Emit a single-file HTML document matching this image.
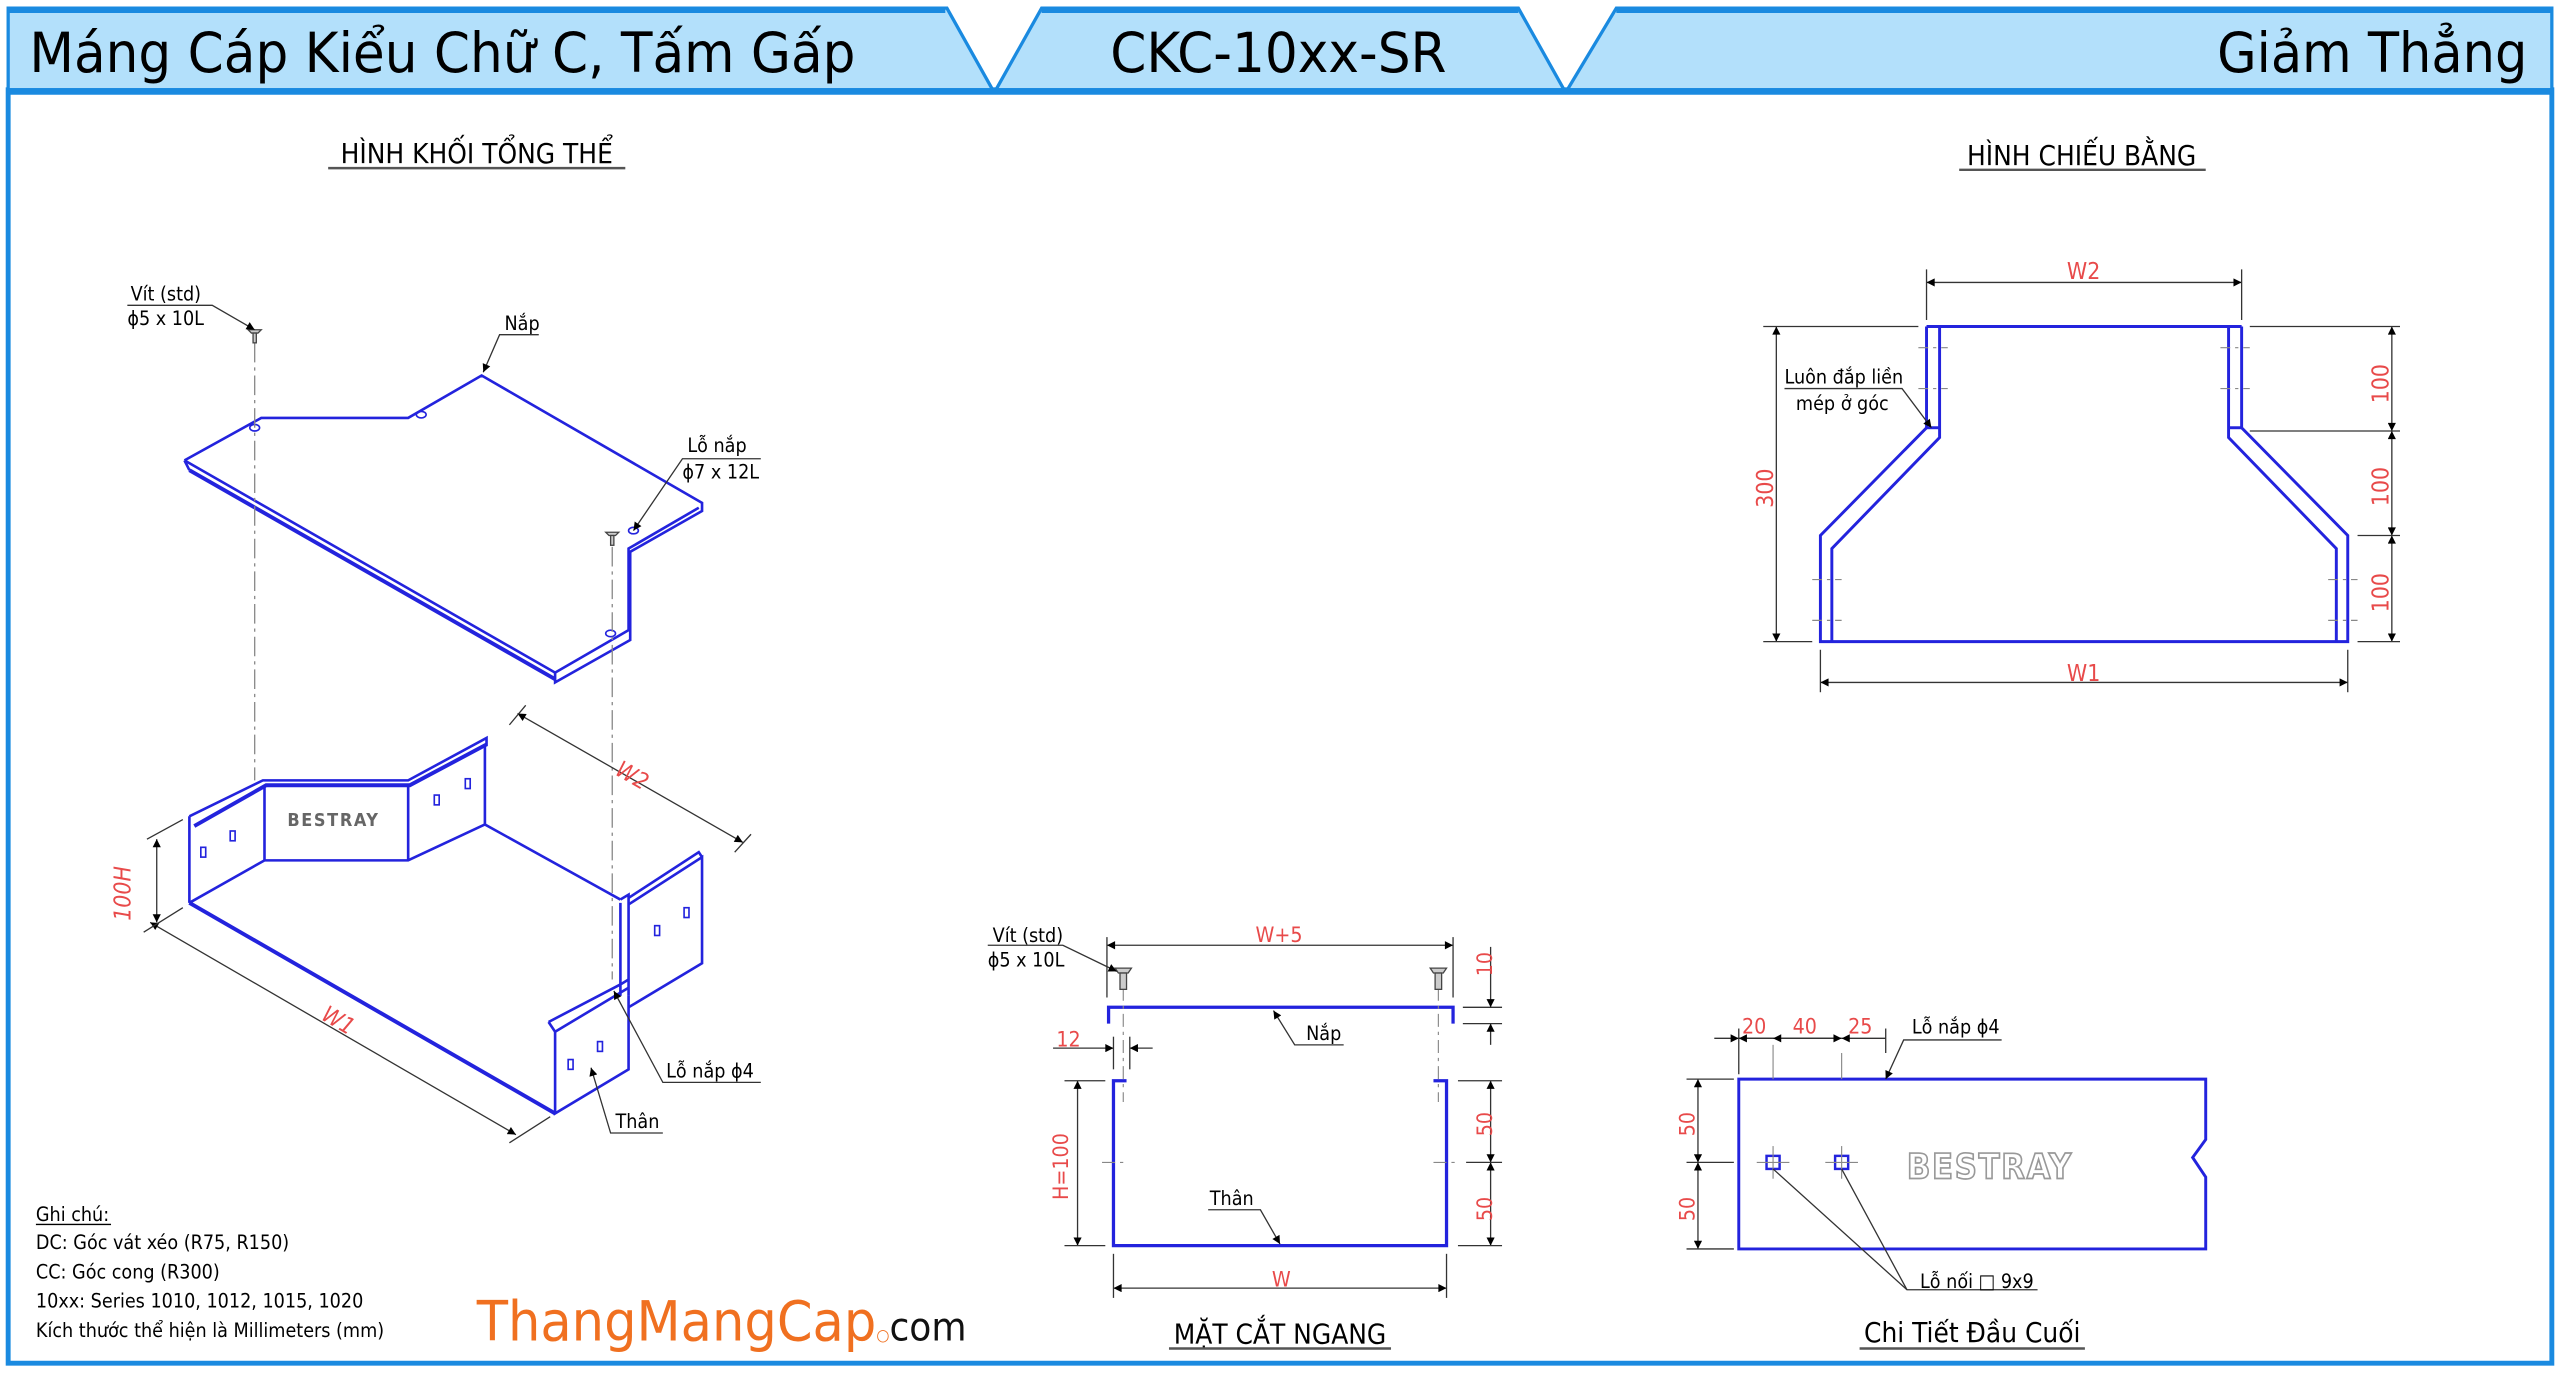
<!DOCTYPE html>
<html><head><meta charset="utf-8"><style>
html,body{margin:0;padding:0;background:#fff;}
svg{display:block;}
text{font-family:"DejaVu Sans Condensed","DejaVu Sans","Liberation Sans",sans-serif;}
</style></head><body>
<svg width="2560" height="1373" viewBox="0 0 1568 841" preserveAspectRatio="none" xmlns="http://www.w3.org/2000/svg">
<defs>
<marker id="a" viewBox="0 0 10 10" refX="10" refY="5" markerWidth="9" markerHeight="5" orient="auto-start-reverse" markerUnits="userSpaceOnUse"><path d="M0,0L10,5L0,10z" fill="#000"/></marker>
</defs>
<rect width="1568" height="841" fill="#fff"/>
<rect x="5" y="55" width="1558" height="780" fill="none" stroke="#1a8ae0" stroke-width="3"/>
<g fill="#b3e0fb" stroke="#1a8ae0" stroke-width="2">
<polygon points="5,5 580,5 608,55 5,55"/>
<polygon points="638,5 930,5 958,55 610,55"/>
<polygon points="990,5 1563,5 1563,55 960,55"/>
</g>
<g stroke="#1a8ae0" stroke-width="4"><line x1="5" y1="6" x2="579" y2="6"/><line x1="638" y1="6" x2="930" y2="6"/><line x1="990" y1="6" x2="1563" y2="6"/><line x1="5" y1="56" x2="1563" y2="56"/></g>
<g font-size="34" fill="#000">
<text x="18" y="44" textLength="506" lengthAdjust="spacingAndGlyphs">Máng Cáp Kiểu Chữ C, Tấm Gấp</text>
<text x="680" y="44" textLength="206" lengthAdjust="spacingAndGlyphs">CKC-10xx-SR</text>
<text x="1358" y="44" textLength="190" lengthAdjust="spacingAndGlyphs">Giảm Thẳng</text>
</g>
<g font-size="17" fill="#000" text-anchor="middle">
<text x="292" y="100">HÌNH KHỐI TỔNG THỂ</text>
<text x="1275" y="101">HÌNH CHIẾU BẰNG</text>
<text x="784" y="823">MẶT CẮT NGANG</text>
<text x="1208" y="822">Chi Tiết Đầu Cuối</text>
</g>
<g stroke="#555" stroke-width="1.5"><line x1="201" y1="103" x2="383" y2="103"/><line x1="1200" y1="104" x2="1351" y2="104"/><line x1="716" y1="826" x2="852" y2="826"/><line x1="1139" y1="826" x2="1277" y2="826"/></g>

<g fill="none" stroke="#2323dd" stroke-width="1.6">
<polyline points="113,282 160,256 250,256 295,230 430,308 430,313 386,338 386,392 340,418 340,412"/>
<polyline points="113,282 340,412 385,386 385,336 428,311"/>
<line x1="113" y1="282" x2="116" y2="288"/><line x1="116" y1="288" x2="340" y2="416" stroke-width="2.4"/>
<polyline points="116,500 161,478 250,478 298,452 298,457"/>
<polyline points="119,506 163,481 251,481 298,456" stroke-width="2.4"/>
<line x1="116" y1="500" x2="116" y2="553"/><line x1="162" y1="481" x2="162" y2="527"/><line x1="250" y1="481" x2="250" y2="527"/><line x1="297" y1="457" x2="297" y2="505"/>
<polyline points="116,553 162,527 250,527 297,505 380,551"/>
<line x1="116" y1="553" x2="340" y2="682" stroke-width="2.4"/>
<polyline points="380,551 385,548 385,610"/>
<polyline points="380,553 380,610"/>
<polyline points="385,554 430,525 430,590 385,617"/>
<polyline points="385,550 428,522 430,525"/>
<polyline points="336,626 340,632 340,682 385,655 385,610"/>
<polyline points="336,626 380,603 385,600"/>
<polyline points="340,632 385,605"/>
<g stroke-width="1"><rect x="123" y="519" width="3" height="6"/><rect x="141" y="509" width="3" height="6"/><rect x="266" y="487" width="3" height="6"/><rect x="285" y="477" width="3" height="6"/><rect x="401" y="567" width="3" height="6"/><rect x="419" y="556" width="3" height="6"/><rect x="348" y="649" width="3" height="6"/><rect x="366" y="638" width="3" height="6"/><ellipse cx="156" cy="262" rx="3" ry="2"/><ellipse cx="258" cy="254" rx="3" ry="2"/><ellipse cx="374" cy="388" rx="3" ry="2"/><ellipse cx="388" cy="325" rx="3" ry="2"/></g>
</g>
<text x="176" y="506" font-size="11" fill="#666" font-weight="bold" letter-spacing="1">BESTRAY</text>
<g stroke="#888" stroke-width="0.8" stroke-dasharray="12,3,2,3"><line x1="156" y1="210" x2="156" y2="478"/><line x1="375" y1="335" x2="375" y2="600"/></g>
<g stroke="#444" fill="#ccc" stroke-width="0.8"><path d="M152,202h8l-2,2h-4z"/><rect x="155" y="204" width="2" height="6"/><path d="M371,326h8l-2,2h-4z"/><rect x="374" y="328" width="2" height="6"/></g>
<g stroke="#333" stroke-width="0.8" fill="none">
<line x1="317" y1="437" x2="455" y2="516" marker-start="url(#a)" marker-end="url(#a)"/>
<line x1="312" y1="444" x2="322" y2="432"/><line x1="450" y1="522" x2="460" y2="511"/>
<line x1="92" y1="565" x2="316" y2="695" marker-start="url(#a)" marker-end="url(#a)"/>
<line x1="88" y1="571" x2="112" y2="556"/><line x1="312" y1="700" x2="337" y2="684"/>
<line x1="96" y1="514" x2="96" y2="565" marker-start="url(#a)" marker-end="url(#a)"/>
<line x1="90" y1="514" x2="112" y2="502"/>
<polyline points="78,187 130,187 156,202" marker-end="url(#a)"/>
<polyline points="330,205 306,205 296,228" marker-end="url(#a)"/>
<polyline points="466,281 418,281 388,325" marker-end="url(#a)"/>
<polyline points="466,663 406,663 376,607" marker-end="url(#a)"/>
<polyline points="406,694 374,694 362,654" marker-end="url(#a)"/>
</g>
<g font-size="12" fill="#000">
<text x="80" y="184">Vít (std)</text><text x="78" y="199">ϕ5 x 10L</text>
<text x="309" y="202">Nắp</text>
<text x="421" y="277">Lỗ nắp</text><text x="418" y="293">ϕ7 x 12L</text>
<text x="408" y="660">Lỗ nắp ϕ4</text>
<text x="377" y="691">Thân</text>
</g>
<g font-size="14" fill="#e84a4a" font-style="italic">
<text transform="translate(376,474) rotate(30)">W2</text>
<text transform="translate(196,624) rotate(30)">W1</text>
<text transform="translate(80,564) rotate(-90)">100H</text>
</g>
<g font-size="12" fill="#000">
<text x="22" y="748">Ghi chú:</text>
<text x="22" y="765">DC: Góc vát xéo (R75, R150)</text>
<text x="22" y="783">CC: Góc cong (R300)</text>
<text x="22" y="801">10xx: Series 1010, 1012, 1015, 1020</text>
<text x="22" y="819">Kích thước thể hiện là Millimeters (mm)</text>
</g>
<line x1="22" y1="750" x2="68" y2="750" stroke="#000" stroke-width="0.8"/>
<text x="292" y="821" font-size="34" fill="#f07020" font-family="Liberation Sans,sans-serif" textLength="300" lengthAdjust="spacingAndGlyphs">ThangMangCap<tspan font-size="10" fill="#f07020">○</tspan><tspan fill="#111" font-size="24">com</tspan></text>

<g fill="none" stroke="#2323dd" stroke-width="1.8">
<polyline points="1180,200 1373,200"/>
<polyline points="1180,200 1180,262 1115,328 1115,393 1438,393 1438,328 1373,262 1373,200"/>
<polyline points="1188,200 1188,268 1122,336 1122,393"/>
<polyline points="1365,200 1365,268 1431,336 1431,393"/>
<line x1="1180" y1="262" x2="1188" y2="262"/><line x1="1365" y1="262" x2="1373" y2="262"/>
</g>
<g stroke="#888" stroke-width="0.7" stroke-dasharray="6,3,2,3"><line x1="1175" y1="213" x2="1193" y2="213"/><line x1="1175" y1="238" x2="1193" y2="238"/><line x1="1360" y1="213" x2="1378" y2="213"/><line x1="1360" y1="238" x2="1378" y2="238"/><line x1="1110" y1="355" x2="1128" y2="355"/><line x1="1110" y1="380" x2="1128" y2="380"/><line x1="1426" y1="355" x2="1444" y2="355"/><line x1="1426" y1="380" x2="1444" y2="380"/></g>
<g stroke="#333" stroke-width="0.8" fill="none">
<line x1="1180" y1="173" x2="1373" y2="173" marker-start="url(#a)" marker-end="url(#a)"/>
<line x1="1180" y1="165" x2="1180" y2="196"/><line x1="1373" y1="165" x2="1373" y2="196"/>
<line x1="1115" y1="418" x2="1438" y2="418" marker-start="url(#a)" marker-end="url(#a)"/>
<line x1="1115" y1="398" x2="1115" y2="424"/><line x1="1438" y1="398" x2="1438" y2="424"/>
<line x1="1088" y1="200" x2="1088" y2="393" marker-start="url(#a)" marker-end="url(#a)"/>
<line x1="1080" y1="200" x2="1175" y2="200"/><line x1="1080" y1="393" x2="1110" y2="393"/>
<line x1="1465" y1="200" x2="1465" y2="264" marker-start="url(#a)" marker-end="url(#a)"/>
<line x1="1465" y1="264" x2="1465" y2="328" marker-start="url(#a)" marker-end="url(#a)"/>
<line x1="1465" y1="328" x2="1465" y2="393" marker-start="url(#a)" marker-end="url(#a)"/>
<line x1="1378" y1="200" x2="1470" y2="200"/><line x1="1378" y1="264" x2="1470" y2="264"/><line x1="1444" y1="328" x2="1470" y2="328"/><line x1="1444" y1="393" x2="1470" y2="393"/>
<polyline points="1093,238 1165,238 1183,262" marker-end="url(#a)"/>
</g>
<g font-size="12" fill="#000"><text x="1093" y="235">Luôn đắp liền</text><text x="1100" y="251">mép ở góc</text></g>
<g font-size="14" fill="#e84a4a">
<text x="1266" y="171">W2</text><text x="1266" y="417">W1</text>
<text transform="translate(1086,311) rotate(-90)">300</text>
<text transform="translate(1463,247) rotate(-90)">100</text>
<text transform="translate(1463,310) rotate(-90)">100</text>
<text transform="translate(1463,375) rotate(-90)">100</text>
</g>

<g fill="none" stroke="#2323dd" stroke-width="2">
<polyline points="679,627 679,617 890,617 890,627"/>
<polyline points="690,662 682,662 682,763 886,763 886,662 878,662"/>
</g>
<g stroke="#888" stroke-width="0.7" stroke-dasharray="8,3,2,3"><line x1="688" y1="605" x2="688" y2="675"/><line x1="881" y1="605" x2="881" y2="675"/><line x1="675" y1="712" x2="690" y2="712"/><line x1="878" y1="712" x2="893" y2="712"/></g>
<g stroke="#444" fill="#ccc" stroke-width="0.8"><path d="M683,593h10l-2,3h-6z"/><rect x="686" y="596" width="4" height="10"/><path d="M876,593h10l-2,3h-6z"/><rect x="879" y="596" width="4" height="10"/></g>
<g stroke="#333" stroke-width="0.8" fill="none">
<line x1="678" y1="579" x2="890" y2="579" marker-start="url(#a)" marker-end="url(#a)"/>
<line x1="678" y1="574" x2="678" y2="611"/><line x1="890" y1="574" x2="890" y2="611"/>
<line x1="682" y1="789" x2="886" y2="789" marker-start="url(#a)" marker-end="url(#a)"/>
<line x1="682" y1="768" x2="682" y2="795"/><line x1="886" y1="768" x2="886" y2="795"/>
<line x1="660" y1="662" x2="660" y2="763" marker-start="url(#a)" marker-end="url(#a)"/>
<line x1="652" y1="662" x2="677" y2="662"/><line x1="652" y1="763" x2="677" y2="763"/>
<line x1="645" y1="642" x2="682" y2="642" marker-end="url(#a)"/><line x1="706" y1="642" x2="692" y2="642" marker-end="url(#a)"/>
<line x1="682" y1="635" x2="682" y2="655"/><line x1="692" y1="635" x2="692" y2="655"/>
<line x1="913" y1="580" x2="913" y2="617" marker-end="url(#a)"/><line x1="913" y1="640" x2="913" y2="627" marker-end="url(#a)"/>
<line x1="896" y1="617" x2="920" y2="617"/><line x1="896" y1="627" x2="920" y2="627"/>
<line x1="913" y1="662" x2="913" y2="712" marker-start="url(#a)" marker-end="url(#a)"/>
<line x1="913" y1="712" x2="913" y2="763" marker-start="url(#a)" marker-end="url(#a)"/>
<line x1="893" y1="662" x2="920" y2="662"/><line x1="898" y1="712" x2="920" y2="712"/><line x1="893" y1="763" x2="920" y2="763"/>
<polyline points="605,579 651,579 684,595" marker-end="url(#a)"/>
<polyline points="823,640 793,640 780,619" marker-end="url(#a)"/>
<polyline points="740,741 772,741 784,762" marker-end="url(#a)"/>
</g>
<g font-size="12" fill="#000"><text x="608" y="577">Vít (std)</text><text x="605" y="592">ϕ5 x 10L</text><text x="800" y="637">Nắp</text><text x="741" y="738">Thân</text></g>
<g font-size="13" fill="#e84a4a">
<text x="769" y="577">W+5</text><text x="779" y="788">W</text><text x="647" y="641">12</text>
<text transform="translate(914,598) rotate(-90)">10</text>
<text transform="translate(914,696) rotate(-90)">50</text>
<text transform="translate(914,748) rotate(-90)">50</text>
<text transform="translate(654,735) rotate(-90)">H=100</text>
</g>

<path d="M1065,661H1351V698L1343,709L1351,721V765H1065Z" fill="none" stroke="#2323dd" stroke-width="1.8"/>
<g fill="none" stroke="#2323dd" stroke-width="1.5"><rect x="1082" y="708" width="8" height="8"/><rect x="1124" y="708" width="8" height="8"/></g>
<g stroke="#888" stroke-width="0.7"><line x1="1076" y1="712" x2="1096" y2="712"/><line x1="1086" y1="702" x2="1086" y2="722"/><line x1="1118" y1="712" x2="1138" y2="712"/><line x1="1128" y1="702" x2="1128" y2="722"/><line x1="1128" y1="645" x2="1128" y2="661"/><line x1="1086" y1="640" x2="1086" y2="661"/></g>
<text x="1168" y="722" font-size="21" fill="#fff" stroke="#999" stroke-width="1" font-weight="bold" letter-spacing="1">BESTRAY</text>
<g stroke="#333" stroke-width="0.8" fill="none">
<line x1="1050" y1="636" x2="1065" y2="636" marker-end="url(#a)"/>
<line x1="1065" y1="636" x2="1128" y2="636"/>
<line x1="1086" y1="636" x2="1065" y2="636" marker-end="url(#a)"/>
<line x1="1086" y1="636" x2="1128" y2="636" marker-start="url(#a)" marker-end="url(#a)"/>
<line x1="1155" y1="636" x2="1128" y2="636" marker-end="url(#a)"/>
<line x1="1065" y1="630" x2="1065" y2="658"/><line x1="1155" y1="630" x2="1155" y2="645"/>
<line x1="1040" y1="661" x2="1040" y2="712" marker-start="url(#a)" marker-end="url(#a)"/>
<line x1="1040" y1="712" x2="1040" y2="765" marker-start="url(#a)" marker-end="url(#a)"/>
<line x1="1033" y1="661" x2="1062" y2="661"/><line x1="1033" y1="712" x2="1062" y2="712"/><line x1="1033" y1="765" x2="1062" y2="765"/>
<polyline points="1226,637 1166,637 1155,661" marker-end="url(#a)"/>
<polyline points="1248,790 1168,790 1086,716"/>
<line x1="1168" y1="790" x2="1128" y2="716"/>
</g>
<g font-size="12" fill="#000"><text x="1171" y="633">Lỗ nắp ϕ4</text><text x="1176" y="789">Lỗ nối □ 9x9</text></g>
<g font-size="13" fill="#e84a4a">
<text x="1067" y="633">20</text><text x="1098" y="633">40</text><text x="1132" y="633">25</text>
<text transform="translate(1038,696) rotate(-90)">50</text>
<text transform="translate(1038,748) rotate(-90)">50</text>
</g>
</svg>
</body></html>
